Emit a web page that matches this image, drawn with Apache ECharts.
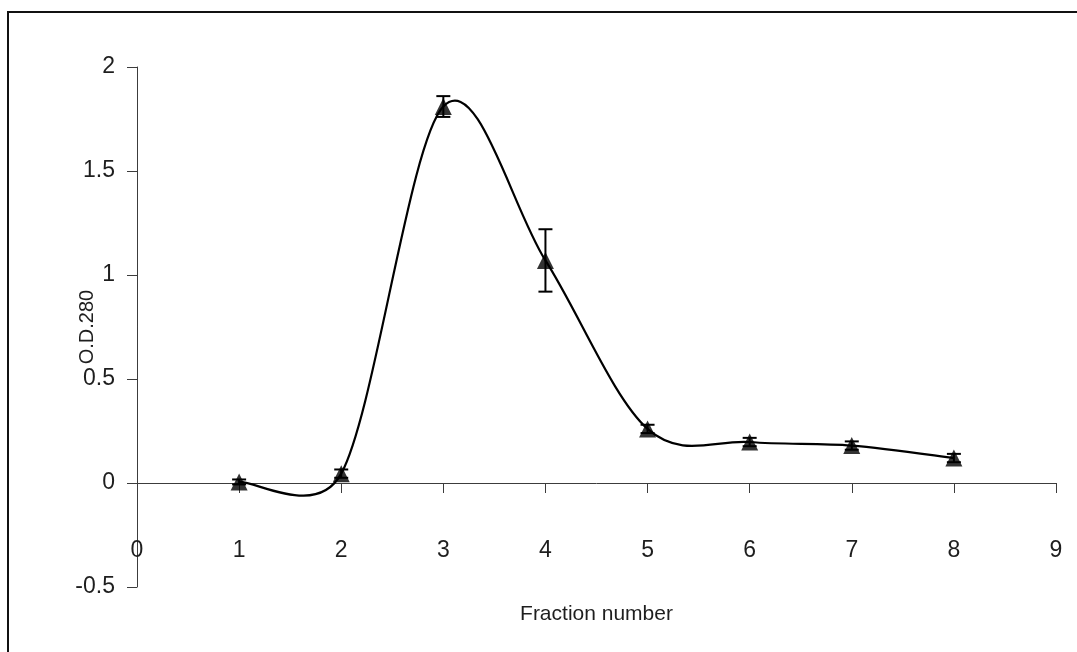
<!DOCTYPE html>
<html>
<head>
<meta charset="utf-8">
<script src="https://cdn.jsdelivr.net/npm/echarts@6/dist/echarts.min.js"></script>
<style>
  html, body { margin: 0; padding: 0; background: #fff; }
  #chart { width: 1077px; height: 652px; }
</style>
</head>
<body>
<div id="chart"></div>
<script>
// Absorbance at 280 nm of each collected fraction (mean ± error)
const fractions = [1, 2, 3, 4, 5, 6, 7, 8];
const od280 = [0.005, 0.045, 1.81, 1.07, 0.26, 0.197, 0.18, 0.12];
const od280Err = [0.012, 0.02, 0.05, 0.15, 0.02, 0.02, 0.02, 0.02];

// Axis tick labels
const xTickLabels = ['0', '1', '2', '3', '4', '5', '6', '7', '8', '9'];
const yTickLabels = ['-0.5', '0', '0.5', '1', '1.5', '2'];

const FONT = "'Liberation Sans', Arial, sans-serif";
const TEXT_COLOR = '#1e1e1e';
const AXIS_COLOR = '#3c3c3c';

const points = fractions.map((x, i) => [x, od280[i], od280Err[i]]);

// Spreadsheet-style smoothing: cubic Bezier segments whose control points
// follow the neighbouring points, shortened when segments are uneven.
function controlPoints(p0, p1, p2) {
  const dist = (a, b) => Math.hypot(b[0] - a[0], b[1] - a[1]);
  const d01 = dist(p0, p1), d12 = dist(p1, p2), d02 = dist(p0, p2);
  let fIn = 1 / 6, fOut = 1 / 6;
  if (d02 / 6 > d01 / 2) fIn = d01 / (2 * d02);
  if (d02 / 6 > d12 / 2) fOut = d12 / (2 * d02);
  const dx = p2[0] - p0[0], dy = p2[1] - p0[1];
  return {
    cin: [p1[0] - dx * fIn, p1[1] - dy * fIn],
    cout: [p1[0] + dx * fOut, p1[1] + dy * fOut]
  };
}

function renderCurveSegment(params, api) {
  const i = params.dataIndex;
  if (i >= points.length - 1) return null;
  const px = points.map(p => api.coord([p[0], p[1]]));
  const n = px.length;
  const prevOf = k => (k > 0 ? px[k - 1] : px[k]);
  const nextOf = k => (k < n - 1 ? px[k + 1] : px[k]);
  const a = controlPoints(prevOf(i), px[i], nextOf(i));
  const b = controlPoints(prevOf(i + 1), px[i + 1], nextOf(i + 1));
  return {
    type: 'bezierCurve',
    shape: {
      x1: px[i][0], y1: px[i][1],
      x2: px[i + 1][0], y2: px[i + 1][1],
      cpx1: a.cout[0], cpy1: a.cout[1],
      cpx2: b.cin[0], cpy2: b.cin[1]
    },
    style: { stroke: '#000', lineWidth: 2.2, fill: null }
  };
}

function renderErrorBar(params, api) {
  const x = api.value(0), y = api.value(1), e = api.value(2);
  const hi = api.coord([x, y + e]);
  const lo = api.coord([x, y - e]);
  const half = 7;
  const style = { stroke: '#000', lineWidth: 2 };
  return {
    type: 'group',
    children: [
      { type: 'line', shape: { x1: hi[0], y1: hi[1], x2: lo[0], y2: lo[1] }, style },
      { type: 'line', shape: { x1: hi[0] - half, y1: hi[1], x2: hi[0] + half, y2: hi[1] }, style },
      { type: 'line', shape: { x1: lo[0] - half, y1: lo[1], x2: lo[0] + half, y2: lo[1] }, style }
    ]
  };
}

const chart = echarts.init(document.getElementById('chart'), null, { renderer: 'canvas' });

chart.setOption({
  animation: false,
  backgroundColor: '#fff',
  textStyle: { fontFamily: FONT, color: TEXT_COLOR },
  grid: { left: 137, right: 21, top: 67, bottom: 65, containLabel: false },
  graphic: [{
    type: 'rect',
    shape: { x: 8, y: 12, width: 1200, height: 800 },
    style: { fill: null, stroke: '#111', lineWidth: 2 },
    silent: true,
    z: -1
  }],
  xAxis: [
    {
      // axis line through zero with downward ticks
      type: 'value', min: 0, max: 9, interval: 1,
      position: 'bottom',
      axisLine: { onZero: true, lineStyle: { color: AXIS_COLOR, width: 1 } },
      axisTick: { show: true, inside: false, length: 10, lineStyle: { color: AXIS_COLOR, width: 1 } },
      axisLabel: { show: false },
      splitLine: { show: false }
    },
    {
      // tick labels and title along the lower edge of the plot
      type: 'value', min: 0, max: 9, interval: 1,
      position: 'bottom',
      offset: -48,
      axisLine: { show: false, onZero: false },
      axisTick: { show: false },
      axisLabel: {
        show: true, margin: 0, fontSize: 23, color: TEXT_COLOR, fontFamily: FONT,
        formatter: v => xTickLabels[Math.round(v)]
      },
      splitLine: { show: false },
      name: 'Fraction number',
      nameLocation: 'middle',
      nameGap: 65,
      nameTextStyle: { fontSize: 21, color: TEXT_COLOR, fontFamily: FONT }
    }
  ],
  yAxis: {
    type: 'value', min: -0.5, max: 2, interval: 0.5,
    axisLine: { show: true, lineStyle: { color: AXIS_COLOR, width: 1 } },
    axisTick: { show: true, inside: false, length: 10, lineStyle: { color: AXIS_COLOR, width: 1 } },
    axisLabel: {
      margin: 22, fontSize: 23, color: TEXT_COLOR, fontFamily: FONT,
      formatter: v => yTickLabels[Math.round((v + 0.5) * 2)]
    },
    splitLine: { show: false },
    name: 'O.D.280',
    nameLocation: 'middle',
    nameGap: 40,
    nameMoveOverlap: false,
    nameTextStyle: { fontSize: 20, color: TEXT_COLOR, fontFamily: FONT }
  },
  series: [
    {
      type: 'custom', name: 'errors', xAxisIndex: 0,
      renderItem: renderErrorBar,
      data: points, z: 2, silent: true
    },
    {
      type: 'custom', name: 'curve', xAxisIndex: 0,
      renderItem: renderCurveSegment,
      data: points, z: 3, silent: true
    },
    {
      type: 'scatter', name: 'O.D.280', xAxisIndex: 0,
      symbol: 'triangle', symbolSize: [17, 17],
      itemStyle: { color: '#000' },
      data: points.map(p => [p[0], p[1]]), z: 4, silent: true
    }
  ]
});
</script>
</body>
</html>
